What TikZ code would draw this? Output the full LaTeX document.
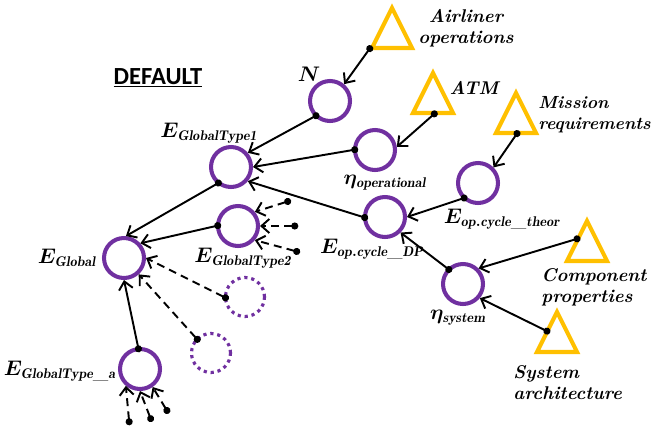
\documentclass[tikz,border=0pt]{standalone}
\usepackage{fontspec}
\newfontfamily\calibri{Carlito}
\usetikzlibrary{shapes.geometric,arrows.meta}
\definecolor{var purple}{HTML}{7030A0}
\definecolor{source yellow}{HTML}{FFC000}
\tikzstyle{quantity}=[circle,draw=var purple,line width=2.3pt,minimum size=0.8cm,inner sep=0pt]
\tikzstyle{ghost quantity}=[circle,draw=var purple,line width=1.8pt,dash pattern=on 1.8pt off 2.2pt,minimum size=0.78cm,inner sep=0pt]
\tikzstyle{driver}=[isosceles triangle,isosceles triangle stretches,shape border rotate=90,draw=source yellow,line width=2.3pt,minimum width=0.8cm,minimum height=0.8cm,inner sep=0pt,anchor=lower side]
\tikzstyle{relation}=[draw,line width=1.1pt,{Circle[length=4pt]}-{Straight Barb[length=4.5pt,width=8pt]},shorten <=-3pt]
\tikzstyle{optional relation}=[relation,dash pattern=on 4.5pt off 3pt]
\tikzstyle{quantity label}=[font=\boldmath\fontsize{12}{14}\selectfont,inner sep=0pt]
\tikzstyle{driver label}=[font=\bfseries\itshape\fontsize{10.5}{12}\selectfont,inner sep=0pt]

\begin{document}
\begin{tikzpicture}[x=0.02cm,y=-0.02cm]
    \useasboundingbox (0,0) rectangle (656,426);
    \node[font=\calibri\bfseries\fontsize{14}{16}\selectfont] (default) at (158,78) {\underline{DEFAULT}};

    % variables
    \foreach \pos/\name in {{(330,101)/N}, {(231,167)/gtone}, {(375,150)/etaop}, {(385,217)/dp}, {(478,183)/theor}, {(463,284)/etasys}, {(238,226)/gtwo}, {(124,258)/global}, {(140,369)/gta}}
      \node[quantity] (\name) at \pos {};
    \node[ghost quantity] (ghostA) at (245,297) {};
    \node[ghost quantity] (ghostB) at (211,353) {};

    % inputs
    \foreach \pos/\name in {{(392,50)/airliner}, {(433,115)/atm}, {(516,135)/mission}, {(587,263)/component}, {(557,354)/system}}
      \node[driver] (\name) at \pos {};

    % loose ends
    \foreach \pos/\name in {{(286,202)/ina}, {(293,226)/inb}, {(295,251)/inc}, {(129,420)/ind}, {(150,417)/ine}, {(166,409)/inf}}
      \node[coordinate] (\name) at \pos {};

    \foreach \source/\sink in {airliner.left corner/N.50, N.-135/gtone.40, etaop.180/gtone.0, atm.lower side/etaop.8, mission.lower side/theor.45, theor.-135/dp.0, dp.180/gtone.-40, etasys.135/dp.-45, component.left side/etasys.45, system.left side/etasys.-40, gtone.-130/global.85, gtwo.180/global.42, gta.95/global.-90}
      \path[relation] (\source) -- (\sink);

    \foreach \source/\sink in {ghostA.180/global.0, ghostB.135/global.-48, ina/gtwo.40, inb/gtwo.0, inc/gtwo.-40, ind/gta.-130, ine/gta.-90, inf/gta.-55}
      \path[optional relation] (\source) -- (\sink);

    % labels
    \node[quantity label] (lN) at (309,74) {$N$};
    \node[quantity label] (lgtone) at (209,133) {$E_{\mathit{GlobalType1}}$};
    \node[quantity label] (letaop) at (385,183) {$\eta_{\mathit{operational}}$};
    \node[quantity label] (ltheor) at (502,219) {$E_{\mathit{op.cycle\_theor}}$};
    \node[quantity label] (ldp) at (372,249) {$E_{\mathit{op.cycle\_DP}}$};
    \node[quantity label] (letasys) at (458,318) {$\eta_{\mathit{system}}$};
    \node[quantity label] (lgtwo) at (243,258) {$E_{\mathit{GlobalType2}}$};
    \node[quantity label] (lglobal) at (67,258) {$E_{\mathit{Global}}$};
    \node[quantity label] (lgta) at (60,371) {$E_{\mathit{GlobalType\_a}}$};

    \node[driver label,align=center] (lairliner) at (466,28) {Airliner\\operations};
    \node[driver label] (latm) at (474,88) {ATM};
    \node[driver label,font=\bfseries\itshape\fontsize{10}{12}\selectfont,align=left,anchor=west] (lmission) at (538,115) {Mission\\requirements};
    \node[driver label,align=left,anchor=west] (lcomponent) at (541,287) {Component\\properties};
    \node[driver label,align=left,anchor=west] (lsystem) at (513,383) {System\\architecture};
\end{tikzpicture}
\end{document}
